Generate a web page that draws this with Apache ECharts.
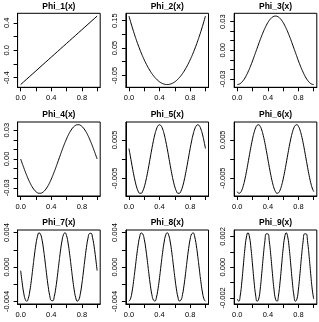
<!DOCTYPE html>
<html><head><meta charset="utf-8">
<script src="https://cdn.jsdelivr.net/npm/echarts@6/dist/echarts.min.js"></script>
<style>html,body{margin:0;padding:0;background:#fff}#c{width:319px;height:322px}</style>
</head><body><div id="c"></div>
<script>
const titles = ['Phi_1(x)','Phi_2(x)','Phi_3(x)','Phi_4(x)','Phi_5(x)','Phi_6(x)','Phi_7(x)','Phi_8(x)','Phi_9(x)'];
const xs = [0,0.02,0.04,0.06,0.08,0.1,0.12,0.14,0.16,0.18,0.2,0.22,0.24,0.26,0.28,0.3,0.32,0.34,0.36,0.38,0.4,0.42,0.44,0.46,0.48,0.5,0.52,0.54,0.56,0.58,0.6,0.62,0.64,0.66,0.68,0.7,0.72,0.74,0.76,0.78,0.8,0.82,0.84,0.86,0.88,0.9,0.92,0.94,0.96,0.98,1];
const phi1 = [-0.5,-0.48,-0.46,-0.44,-0.42,-0.4,-0.38,-0.36,-0.34,-0.32,-0.3,-0.28,-0.26,-0.24,-0.22,-0.2,-0.18,-0.16,-0.14,-0.12,-0.1,-0.08,-0.06,-0.04,-0.02,0,0.02,0.04,0.06,0.08,0.1,0.12,0.14,0.16,0.18,0.2,0.22,0.24,0.26,0.28,0.3,0.32,0.34,0.36,0.38,0.4,0.42,0.44,0.46,0.48,0.5];
const phi2 = [0.1667,0.1471,0.1283,0.1103,0.0931,0.0767,0.0611,0.0463,0.0323,0.0191,0.0067,-0.0049,-0.0157,-0.0257,-0.0349,-0.0433,-0.0509,-0.0577,-0.0637,-0.0689,-0.0733,-0.0769,-0.0797,-0.0817,-0.0829,-0.0833,-0.0829,-0.0817,-0.0797,-0.0769,-0.0733,-0.0689,-0.0637,-0.0577,-0.0509,-0.0433,-0.0349,-0.0257,-0.0157,-0.0049,0.0067,0.0191,0.0323,0.0463,0.0611,0.0767,0.0931,0.1103,0.1283,0.1471,0.1667];
const phi3 = [-0.0358,-0.0355,-0.0347,-0.0333,-0.0314,-0.0290,-0.0261,-0.0228,-0.0192,-0.0152,-0.0111,-0.0067,-0.0022,0.0022,0.0067,0.0111,0.0152,0.0192,0.0228,0.0261,0.0290,0.0314,0.0333,0.0347,0.0355,0.0358,0.0355,0.0347,0.0333,0.0314,0.0290,0.0261,0.0228,0.0192,0.0152,0.0111,0.0067,0.0022,-0.0022,-0.0067,-0.0111,-0.0152,-0.0192,-0.0228,-0.0261,-0.0290,-0.0314,-0.0333,-0.0347,-0.0355,-0.0358];
const phi4 = [0,-0.0045,-0.0089,-0.0132,-0.0172,-0.0210,-0.0245,-0.0276,-0.0302,-0.0324,-0.0340,-0.0352,-0.0357,-0.0357,-0.0352,-0.0340,-0.0324,-0.0302,-0.0276,-0.0245,-0.0210,-0.0172,-0.0132,-0.0089,-0.0045,0,0.0045,0.0089,0.0132,0.0172,0.0210,0.0245,0.0276,0.0302,0.0324,0.0340,0.0352,0.0357,0.0357,0.0352,0.0340,0.0324,0.0302,0.0276,0.0245,0.0210,0.0172,0.0132,0.0089,0.0045,0];
const phi5 = [0.00277,0.00056,-0.00168,-0.00381,-0.00571,-0.00725,-0.00833,-0.00889,-0.00889,-0.00833,-0.00725,-0.00571,-0.00381,-0.00168,0.00056,0.00277,0.00480,0.00653,0.00785,0.00868,0.00896,0.00868,0.00785,0.00653,0.00480,0.00277,0.00056,-0.00168,-0.00381,-0.00571,-0.00725,-0.00833,-0.00889,-0.00889,-0.00833,-0.00725,-0.00571,-0.00381,-0.00168,0.00056,0.00277,0.00480,0.00653,0.00785,0.00868,0.00896,0.00868,0.00785,0.00653,0.00480,0.00277];
const phi6 = [-0.00852,-0.00894,-0.00880,-0.00811,-0.00690,-0.00527,-0.00330,-0.00112,0.00112,0.00330,0.00527,0.00690,0.00811,0.00880,0.00894,0.00852,0.00757,0.00613,0.00432,0.00223,0,-0.00223,-0.00432,-0.00613,-0.00757,-0.00852,-0.00894,-0.00880,-0.00811,-0.00690,-0.00527,-0.00330,-0.00112,0.00112,0.00330,0.00527,0.00690,0.00811,0.00880,0.00894,0.00852,0.00757,0.00613,0.00432,0.00223,0,-0.00223,-0.00432,-0.00613,-0.00757,-0.00852];
const phi7 = [-0.00042,-0.00184,-0.00301,-0.00376,-0.00398,-0.00364,-0.00278,-0.00154,-0.00008,0.00139,0.00266,0.00356,0.00397,0.00381,0.00312,0.00199,0.00058,-0.00091,-0.00227,-0.00332,-0.00389,-0.00392,-0.00340,-0.00241,-0.00107,0.00042,0.00184,0.00301,0.00376,0.00398,0.00364,0.00278,0.00154,0.00008,-0.00139,-0.00266,-0.00356,-0.00397,-0.00381,-0.00312,-0.00199,-0.00058,0.00091,0.00227,0.00332,0.00389,0.00392,0.00340,0.00241,0.00107,-0.00042];
const phi8 = [-0.00398,-0.00370,-0.00290,-0.00169,-0.00025,0.00123,0.00254,0.00349,0.00395,0.00385,0.00322,0.00213,0.00075,-0.00075,-0.00213,-0.00322,-0.00385,-0.00395,-0.00349,-0.00254,-0.00123,0.00025,0.00169,0.00290,0.00370,0.00398,0.00370,0.00290,0.00169,0.00025,-0.00123,-0.00254,-0.00349,-0.00395,-0.00385,-0.00322,-0.00213,-0.00075,0.00075,0.00213,0.00322,0.00385,0.00395,0.00349,0.00254,0.00123,-0.00025,-0.00169,-0.00290,-0.00370,-0.00398];
const phi9 = [-0.00208,-0.00222,-0.00181,-0.00095,0.00014,0.00120,0.00196,0.00224,0.00196,0.00120,0.00014,-0.00095,-0.00181,-0.00222,-0.00208,-0.00143,-0.00042,0.00069,0.00163,0.00217,0.00217,0.00163,0.00069,-0.00042,-0.00143,-0.00208,-0.00222,-0.00181,-0.00095,0.00014,0.00120,0.00196,0.00224,0.00196,0.00120,0.00014,-0.00095,-0.00181,-0.00222,-0.00208,-0.00143,-0.00042,0.00069,0.00163,0.00217,0.00217,0.00163,0.00069,-0.00042,-0.00143,-0.00208];

const xTicks = [0,0.2,0.4,0.6,0.8,1];
const xLabels = [0,0.4,0.8];
const yTicks = [
  [-0.4,-0.2,0,0.2,0.4],
  [-0.05,0,0.05,0.1,0.15],
  [-0.03,-0.02,-0.01,0,0.01,0.02,0.03],
  [-0.03,-0.02,-0.01,0,0.01,0.02,0.03],
  [-0.005,0,0.005],
  [-0.005,0,0.005],
  [-0.004,-0.002,0,0.002,0.004],
  [-0.004,-0.002,0,0.002,0.004],
  [-0.002,-0.001,0,0.001,0.002]
];
const yLabels = [
  [-0.4,0,0.4],
  [-0.05,0.05,0.15],
  [-0.03,0,0.03],
  [-0.03,0,0.03],
  [-0.005,0.005],
  [-0.005,0.005],
  [-0.004,0,0.004],
  [-0.004,0,0.004],
  [-0.002,0,0.002]
];
const yDigits = [1,2,2,2,3,3,3,3,3];
const seriesData = [phi1,phi2,phi3,phi4,phi5,phi6,phi7,phi8,phi9];

// layout
const colLeft = [17.6, 125.9, 234.2];
const rowTop = [13.3, 122, 230];
const boxW = 82.6, boxH = 74;
const FONT = '"Liberation Sans", Arial, Helvetica, sans-serif';

const grids = [], xAxes = [], yAxes = [], series = [], graphics = [];
for (let i = 0; i < 9; i++) {
  const r = Math.floor(i / 3), c = i % 3;
  const L = colLeft[c], T = rowTop[r];
  grids.push({left: L, top: T, width: boxW, height: boxH, show: true, borderColor: '#000', borderWidth: 1, backgroundColor: 'transparent', containLabel: false, outerBoundsMode: 'none'});
  const ys = seriesData[i];
  const mn = Math.min(...ys), mx = Math.max(...ys), pad = (mx - mn) * 0.04;
  xAxes.push({
    type: 'value', gridIndex: i, min: -0.04, max: 1.04,
    splitLine: {show: false},
    axisLine: {show: true, onZero: false, lineStyle: {color: '#000', width: 1}},
    axisTick: {show: true, length: 4, lineStyle: {color: '#000', width: 1}, customValues: xTicks},
    axisLabel: {customValues: xLabels, formatter: v => Number(v).toFixed(1), fontSize: 7.5, color: '#000', fontFamily: FONT, margin: 7}
  });
  const d = yDigits[i];
  yAxes.push({
    type: 'value', gridIndex: i, min: mn - pad, max: mx + pad,
    splitLine: {show: false},
    axisLine: {show: true, onZero: false, lineStyle: {color: '#000', width: 1}},
    axisTick: {show: true, length: 4, lineStyle: {color: '#000', width: 1}, customValues: yTicks[i]},
    axisLabel: {customValues: yLabels[i], formatter: v => Number(v).toFixed(d), fontSize: 7.5, color: '#000', fontFamily: FONT, margin: 7, rotate: 90}
  });
  series.push({
    type: 'line', xAxisIndex: i, yAxisIndex: i,
    data: xs.map((x, j) => [x, ys[j]]),
    showSymbol: false, symbol: 'none', smooth: i === 0 ? false : 0.5,
    lineStyle: {color: '#000', width: 1}, silent: true
  });
  graphics.push({
    type: 'text', x: L + boxW / 2, y: T - 7,
    style: {text: titles[i], font: 'bold 8.5px ' + FONT, textAlign: 'center', textVerticalAlign: 'middle', fill: '#000'}
  });
}

const chart = echarts.init(document.getElementById('c'), null, {renderer: 'canvas'});
chart.setOption({
  animation: false,
  backgroundColor: '#fff',
  grid: grids, xAxis: xAxes, yAxis: yAxes, series: series,
  graphic: graphics
});
</script></body></html>
